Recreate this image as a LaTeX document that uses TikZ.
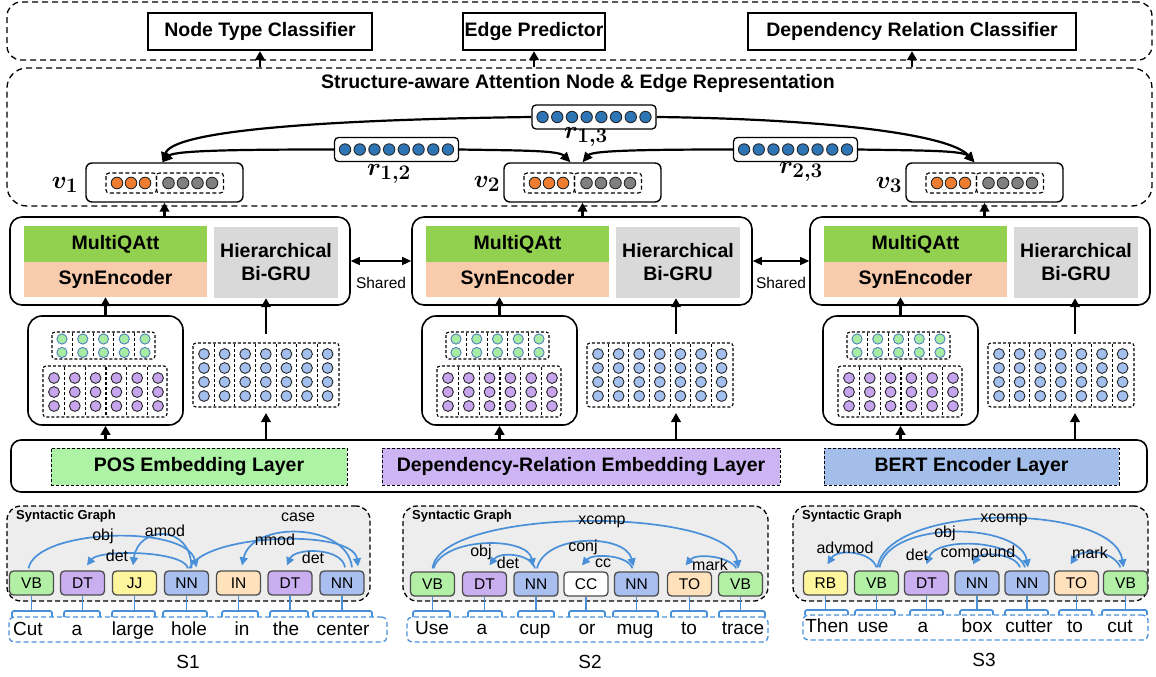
\documentclass[tikz,border=0pt]{standalone}
\usepackage{fontspec}
\setmainfont{Liberation Sans}
\usepackage{bm}
\usetikzlibrary{arrows.meta,calc}
\definecolor{arcblue}{HTML}{4A90D9}
\definecolor{mqgreen}{HTML}{92D050}
\definecolor{synpeach}{HTML}{F8CBAD}
\definecolor{grugray}{HTML}{D9D9D9}
\definecolor{posgreen}{HTML}{AEF2A5}
\definecolor{deppurple}{HTML}{CDB4F2}
\definecolor{bertblue}{HTML}{A4BEEA}
\definecolor{vbgreen}{HTML}{B2F0A6}
\definecolor{dtpurple}{HTML}{C9AEF0}
\definecolor{jjyellow}{HTML}{FFF59D}
\definecolor{nnblue}{HTML}{A9BFEF}
\definecolor{inpeach}{HTML}{FFE2BC}
\definecolor{sgbg}{HTML}{EDEDED}
\definecolor{rblue}{HTML}{2E75B6}
\definecolor{vorange}{HTML}{ED7D31}
\definecolor{vgray}{HTML}{808080}
\definecolor{embgreen}{HTML}{A8EBA3}
\definecolor{gedge}{HTML}{4F81BD}
\definecolor{embpurple}{HTML}{C7A4EE}
\definecolor{embblue}{HTML}{A3BFEE}
\newcommand\myfb{\fontsize{19.5}{23}\selectfont\bfseries}
\newcommand\myfw{\fontsize{19}{22}\selectfont}
\newcommand\myfl{\fontsize{16}{18}\selectfont}
\newcommand\myfp{\fontsize{15.5}{18}\selectfont}
\newcommand\myfsg{\fontsize{13}{15}\selectfont\bfseries}
\newcommand\myfsh{\fontsize{15.5}{18}\selectfont}
\newcommand\myfm{\fontsize{24.88}{28}\selectfont}
\begin{document}
\begin{tikzpicture}[x=1pt,y=-1pt,
  cont/.style={draw, dash pattern=on 6pt off 4pt, line width=1.3, inner sep=0},
  cls/.style={draw, line width=2.2, fill=white, minimum height=37, inner sep=0, font=\myfb},
  arr/.style={line width=2.7, -{Triangle[length=9,width=9.5]}},
  carr/.style={line width=2.2, -{Triangle[length=10,width=9]}},
  sarr/.style={line width=1.3, {Triangle[length=9,width=8]}-{Triangle[length=9,width=8]}},
  vecbox/.style={draw, line width=1.3, rounded corners=4, fill=white, inner sep=0, minimum width=124, minimum height=24},
  vbox/.style={draw, line width=1.4, rounded corners=6, fill=white, inner sep=0, minimum width=157, minimum height=39},
  grp/.style={draw, dash pattern=on 4pt off 2.5pt, line width=1.1, rounded corners=3},
  rdot/.style={fill=rblue, draw=black!85, line width=0.9},
  odot/.style={fill=vorange, draw=black!85, line width=0.9},
  gdot/.style={fill=vgray, draw=black!85, line width=0.9},
  grdot/.style={fill=embgreen, draw=gedge, line width=0.9},
  pdot/.style={fill=embpurple, draw=black!85, line width=0.9},
  bdot/.style={fill=embblue, draw=black!85, line width=0.9},
  blk/.style={draw, line width=1.6, rounded corners=12, inner sep=0, minimum width=340, minimum height=88},
  mq/.style={fill=mqgreen, inner sep=0, minimum width=183, minimum height=36, font=\myfb},
  se/.style={fill=synpeach, inner sep=0, minimum width=183, minimum height=35, font=\myfb},
  gru/.style={fill=grugray, inner sep=0, minimum width=124, minimum height=71, font=\myfb, align=center},
  embbox/.style={draw, line width=1.6, rounded corners=14, inner sep=0, minimum width=155, minimum height=109},
  edash/.style={draw, dash pattern=on 3pt off 2pt, line width=1.1},
  layerbox/.style={draw, line width=1.6, rounded corners=10, inner sep=0},
  lay/.style={draw, dash pattern=on 3pt off 2pt, line width=1, inner sep=0, minimum height=37, font=\myfb},
  sgbox/.style={draw, dash pattern=on 5pt off 3pt, line width=1.3, fill=sgbg, rounded corners=14, inner sep=0, minimum height=95},
  tagbox/.style={draw=black!70, line width=1.3, rounded corners=4, inner sep=0, minimum width=44, minimum height=24, font=\myfp},
  deparc/.style={draw=arcblue, line width=1.7, -{Triangle[length=8,width=8]}},
  dlab/.style={font=\myfl, inner sep=0},
  brk/.style={draw=arcblue, line width=1.8},
  wbox/.style={draw=arcblue, dash pattern=on 5pt off 3pt, line width=1.3, rounded corners=5, inner sep=0, minimum height=25},
  word/.style={font=\myfw, anchor=base, inner sep=0},
]
\useasboundingbox (0,0) rectangle (1156,677);

% ---------- containers ----------
\node[cont, minimum width=1145, minimum height=58, rounded corners=14] (topc) at (579.5,31) {};
\node[cont, minimum width=1145, minimum height=138, rounded corners=20] (repc) at (579.5,137) {};

% ---------- classifiers ----------
\node[cls, minimum width=224] (ntc) at (260,31.5) {Node Type Classifier};
\node[cls, minimum width=142] (ep) at (534,31.5) {Edge Predictor};
\node[cls, minimum width=328] (drc) at (912,31.5) {Dependency Relation Classifier};
\draw[arr] (ntc.south |- repc.north) -- (ntc.south);
\draw[arr] (ep.south |- repc.north) -- (ep.south);
\draw[arr] (drc.south |- repc.north) -- (drc.south);

\node[font=\myfb, inner sep=0] (title) at (578,84) {Structure-aware Attention Node \& Edge Representation};

% ---------- edge vectors ----------
\node[vecbox] (r13) at (594,117) {};
\node[vecbox] (r12) at (396.5,149.5) {};
\node[vecbox] (r23) at (795.5,149.5) {};
\foreach \nm in {r13,r12,r23}{
  \foreach \k in {0,...,7}{\filldraw[rdot] ($(\nm.center)+({(\k-3.5)*14.7},0)$) circle (5.7);}
}
\node[font=\myfm, inner sep=0] (lr13) at (586,137) {$\bm{r}_{\bm{1,3}}$};
\node[font=\myfm, inner sep=0] (lr12) at (389,174) {$\bm{r}_{\bm{1,2}}$};
\node[font=\myfm, inner sep=0] (lr23) at (801,172) {$\bm{r}_{\bm{2,3}}$};

% ---------- node vectors ----------
\foreach \ii/\vx in {1/164.5,2/582.5,3/984.5}{
  \node[vbox] (v\ii) at (\vx,182.5) {};
  \draw[grp] (\vx-58.5,173) rectangle (\vx-8,193);
  \draw[grp] (\vx-8,173) rectangle (\vx+59,193);
  \foreach \dd in {-47.5,-33.5,-19.5}{\filldraw[odot] (\vx+\dd,183) circle (5.8);}
  \foreach \dd in {4,18.5,33,47.5}{\filldraw[gdot] (\vx+\dd,183) circle (5.8);}
}
\node[font=\myfm, inner sep=0] (lv1) at (65,185) {$\bm{v}_{\bm{1}}$};
\node[font=\myfm, inner sep=0] (lv2) at (487,184) {$\bm{v}_{\bm{2}}$};
\node[font=\myfm, inner sep=0] (lv3) at (889,185) {$\bm{v}_{\bm{3}}$};

\draw[carr] (r13.west) .. controls +(-230,3) and +(10,-30) .. ($(v1.north)+(-2,0)$);
\draw[carr] (r12.west) .. controls +(-90,0) and +(12,-12) .. ($(v1.north)+(-2,0)$);
\draw[carr] (r12.east) .. controls +(60,1) and +(-12,-12) .. ($(v2.north)+(-12,0)$);
\draw[carr] (r23.west) .. controls +(-80,0) and +(10,-12) .. ($(v2.north)+(0,0)$);
\draw[carr] (r13.east) .. controls +(170,2) and +(-25,-28) .. ($(v3.north)+(-10,0)$);
\draw[carr] (r23.east) .. controls +(60,1) and +(-12,-12) .. ($(v3.north)+(-10,0)$);

% ---------- encoder blocks ----------
\foreach \ii/\bl in {1/10,2/412,3/810}{
  \node[blk] (b\ii) at (\bl+170,261) {};
  \node[mq] (mq\ii) at (\bl+105.5,244) {MultiQAtt};
  \node[se] (se\ii) at (\bl+105.5,279.5) {SynEncoder};
  \node[gru] (gru\ii) at (\bl+266,262.5) {Hierarchical\\Bi-GRU};
}
\draw[sarr] (b1.east) -- (b2.west);
\draw[sarr] (b2.east) -- (b3.west);
\node[font=\myfsh, inner sep=0] (sh1) at (381,283) {Shared};
\node[font=\myfsh, inner sep=0] (sh2) at (781,283) {Shared};

% ---------- embedding groups ----------
\foreach \ii/\E in {1/28,2/422,3/823}{
  \node[embbox] (e\ii) at (\E+77.5,370.5) {};
  % green (POS)
  \draw[edash, rounded corners=3] (\E+24,332) rectangle (\E+127,359);
  \foreach \k in {1,...,4}{\draw[edash] (\E+23.6+20.75*\k,333) -- (\E+23.6+20.75*\k,358);}
  \foreach \k in {0,...,4}{
    \filldraw[grdot] (\E+34+20.75*\k,339) circle (5.1);
    \filldraw[grdot] (\E+34+20.75*\k,352.5) circle (5.1);
  }
  % purple (dependency relation)
  \draw[edash, rounded corners=3] (\E+15,366) rectangle (\E+139,417);
  \foreach \k in {1,...,5}{\draw[edash] (\E+15.6+20.8*\k,367) -- (\E+15.6+20.8*\k,416);}
  \foreach \k in {0,...,5}{\foreach \yy in {378,392,406}{\filldraw[pdot] (\E+26+20.8*\k,\yy) circle (5.4);}}
  % blue (BERT)
  \draw[edash, rounded corners=3] (\E+165,343) rectangle (\E+311,407);
  \foreach \k in {1,...,6}{\draw[edash] (\E+165.7+20.6*\k,344) -- (\E+165.7+20.6*\k,406);}
  \foreach \k in {0,...,6}{\foreach \yy in {354,368,382,396}{\filldraw[bdot] (\E+176+20.6*\k,\yy) circle (5.4);}}
}

% ---------- embedding layer ----------
\node[layerbox, minimum width=1136, minimum height=52] (layer) at (579,466) {};
\node[lay, fill=posgreen, minimum width=296] (posl) at (199,466.5) {POS Embedding Layer};
\node[lay, fill=deppurple, minimum width=398] (depl) at (581,466.5) {Dependency-Relation Embedding Layer};
\node[lay, fill=bertblue, minimum width=295] (bertl) at (971.5,466.5) {BERT Encoder Layer};

% ---------- vertical arrows ----------
\foreach \ii in {1,2,3}{
  \draw[arr] (e\ii.north) -- (e\ii.north |- se\ii.south);
  \draw[arr] (e\ii.south |- layer.north) -- (e\ii.south);
  \draw[arr] (v\ii.south |- b\ii.north) -- (v\ii.south);
}
\foreach \ii/\gx in {1/266,2/676,3/1075}{
  \coordinate (gt\ii) at (\gx,334);
  \coordinate (gb\ii) at (\gx,413);
  \draw[arr] (gt\ii) -- (gt\ii |- gru\ii.south);
  \draw[arr] (gb\ii |- layer.north) -- (gb\ii);
}

% ---------- syntactic graphs ----------
\node[sgbox, minimum width=363] (sg1) at (188.5,553.5) {};
\node[sgbox, minimum width=365] (sg2) at (585.5,553.5) {};
\node[sgbox, minimum width=355] (sg3) at (970.5,553.5) {};
\node[font=\myfsg, anchor=west, inner sep=0] (sgl1) at (16,516) {Syntactic Graph};
\node[font=\myfsg, anchor=west, inner sep=0] (sgl2) at (412,516) {Syntactic Graph};
\node[font=\myfsg, anchor=west, inner sep=0] (sgl3) at (802,516) {Syntactic Graph};

% S1 tags
\foreach \ii/\tg/\col/\vx in {1/VB/vbgreen/31.5, 2/DT/dtpurple/82.5, 3/JJ/jjyellow/134.5, 4/NN/nnblue/186.5, 5/IN/inpeach/238.5, 6/DT/dtpurple/290, 7/NN/nnblue/342}{
  \node[tagbox, fill=\col] (a\ii) at (\vx,583) {\tg};
}
% S2 tags
\foreach \ii/\tg/\col/\vx in {1/VB/vbgreen/432.5, 2/DT/dtpurple/484.5, 3/NN/nnblue/536, 4/CC/white/586, 5/NN/nnblue/636.5, 6/TO/inpeach/689.5, 7/VB/vbgreen/740.5}{
  \node[tagbox, fill=\col] (b\ii t) at (\vx,584) {\tg};
}
% S3 tags
\foreach \ii/\tg/\col/\vx in {1/RB/jjyellow/825.5, 2/VB/vbgreen/876.5, 3/DT/dtpurple/926.5, 4/NN/nnblue/977, 5/NN/nnblue/1027, 6/TO/inpeach/1076.5, 7/VB/vbgreen/1125.5}{
  \node[tagbox, fill=\col] (c\ii) at (\vx,583) {\tg};
}

% S1 arcs
\draw[deparc] ($(a1.north)+(-3,-2)$) .. controls +(8,-40) and +(-10,-43) .. ($(a4.north)+(10,-3)$);
\draw[deparc] ($(a4.north)+(1.5,-2)$) .. controls +(-4,-18) and +(12,-16) .. ($(a2.north)+(4.5,-5)$);
\draw[deparc] ($(a4.north)+(5,-2)$) .. controls +(0,-45) and +(5,-40) .. ($(a3.north)+(-1.5,-5)$);
\draw[deparc] ($(a4.north)+(3,-2)$) .. controls +(15,-35) and +(-5,-38) .. ($(a7.north)+(16,-4)$);
\draw[deparc] ($(a7.north)+(10,-3)$) .. controls +(-5,-45) and +(10,-45) .. ($(a5.north)+(3.5,-5)$);
\draw[deparc] ($(a7.north)+(3,-3)$) .. controls +(-3,-20) and +(8,-18) .. ($(a6.north)+(-3,-5)$);
\node[dlab] (l1a) at (103,536) {obj};
\node[dlab] (l1b) at (165,531) {amod};
\node[dlab] (l1c) at (117,556) {det};
\node[dlab] (l1d) at (275,540) {nmod};
\node[dlab] (l1e) at (298,517) {case};
\node[dlab] (l1f) at (313,558) {det};

% S2 arcs
\draw[deparc] ($(b1t.north)+(0,-3)$) .. controls +(8,-62) and +(-10,-62) .. ($(b7t.north)+(-2,-3)$);
\draw[deparc] ($(b1t.north)+(1,-3)$) .. controls +(10,-32) and +(-5,-30) .. ($(b3t.north)+(-3,-5)$);
\draw[deparc] ($(b3t.north)+(-1,-3)$) .. controls +(-4,-15) and +(10,-14) .. ($(b2t.north)+(5,-6)$);
\draw[deparc] ($(b3t.north)+(1,-3)$) .. controls +(8,-35) and +(-8,-33) .. ($(b5t.north)+(-3,-5)$);
\draw[deparc] ($(b5t.north)+(-4,-3)$) .. controls +(-5,-14) and +(10,-12) .. ($(b4t.north)+(-4,-6)$);
\draw[deparc] ($(b7t.north)+(-4,-3)$) .. controls +(-8,-13) and +(10,-12) .. ($(b6t.north)+(-4,-6)$);
\node[dlab] (l2a) at (602,522) {xcomp};
\node[dlab] (l2b) at (481,552) {obj};
\node[dlab] (l2c) at (508,563) {det};
\node[dlab] (l2d) at (583,547) {conj};
\node[dlab] (l2e) at (603,563) {cc};
\node[dlab] (l2f) at (710,565) {mark};

% S3 arcs
\draw[deparc] ($(c2.north)+(0,-3)$) .. controls +(-5,-16) and +(10,-16) .. ($(c1.north)+(2,-6)$);
\draw[deparc] ($(c2.north)+(1,-3)$) .. controls +(10,-65) and +(-10,-65) .. ($(c7.north)+(-2,-3)$);
\draw[deparc] ($(c2.north)+(3,-3)$) .. controls +(10,-48) and +(-8,-45) .. ($(c5.north)+(1,-3)$);
\draw[deparc] ($(c5.north)+(-2,-3)$) .. controls +(-10,-28) and +(10,-28) .. ($(c3.north)+(0,-6)$);
\draw[deparc] ($(c5.north)+(-7,-3)$) .. controls +(-5,-14) and +(8,-13) .. ($(c4.north)+(-4,-6)$);
\draw[deparc] ($(c7.north)+(-5,-3)$) .. controls +(-8,-18) and +(10,-16) .. ($(c6.north)+(-6,-6)$);
\node[dlab] (l3a) at (845,548) {advmod};
\node[dlab] (l3b) at (1004,520) {xcomp};
\node[dlab] (l3c) at (945,533) {obj};
\node[dlab] (l3d) at (917,555) {det};
\node[dlab] (l3e) at (978,553) {compound};
\node[dlab] (l3f) at (1090,553) {mark};

% ---------- words ----------
\node[wbox, minimum width=378] (wb1) at (198,629.5) {};
\node[wbox, minimum width=361] (wb2) at (587.5,629.5) {};
\node[wbox, minimum width=345] (wb3) at (975.5,627.5) {};

\foreach \ii/\wrd/\vx/\xl/\xr in {1/Cut/28/12/52, 2/a/77/64/100, 3/large/133/112/155, 4/hole/189/163/207, 5/in/242/222/258, 6/the/286/270/308, 7/center/343/313/372}{
  \node[word] (wa\ii) at (\vx,635) {\wrd};
  \draw[brk] (a\ii.south) -- ++(0,16);
  \draw[brk, rounded corners=2] (\xl,617) -- (\xl,611) -- (\xr,611) -- (\xr,617);
}
\foreach \ii/\wrd/\vx/\xl/\xr in {1/Use/432/413/450, 2/a/482/468/502, 3/cup/535/518/554, 4/or/587/569/605, 5/mug/635/613/658, 6/to/689/671/707, 7/trace/743/719/765}{
  \node[word] (wb\ii w) at (\vx,634) {\wrd};
  \draw[brk] (b\ii t.south) -- ++(0,15);
  \draw[brk, rounded corners=2] (\xl,617) -- (\xl,611) -- (\xr,611) -- (\xr,617);
}
\foreach \ii/\wrd/\vx/\xl/\xr in {1/Then/827/805/848, 2/use/873/855/895, 3/a/923/910/943, 4/box/977/960/993, 5/cutter/1029/1005/1048, 6/to/1075/1059/1092, 7/cut/1120/1102/1147}{
  \node[word] (wc\ii) at (\vx,632) {\wrd};
  \draw[brk] (c\ii.south) -- ++(0,15);
  \draw[brk, rounded corners=2] (\xl,615) -- (\xl,610) -- (\xr,610) -- (\xr,615);
}
\node[font=\myfw, inner sep=0] (sl1) at (188,662) {S1};
\node[font=\myfw, inner sep=0] (sl2) at (590,662) {S2};
\node[font=\myfw, inner sep=0] (sl3) at (984,660) {S3};
\end{tikzpicture}
\end{document}
